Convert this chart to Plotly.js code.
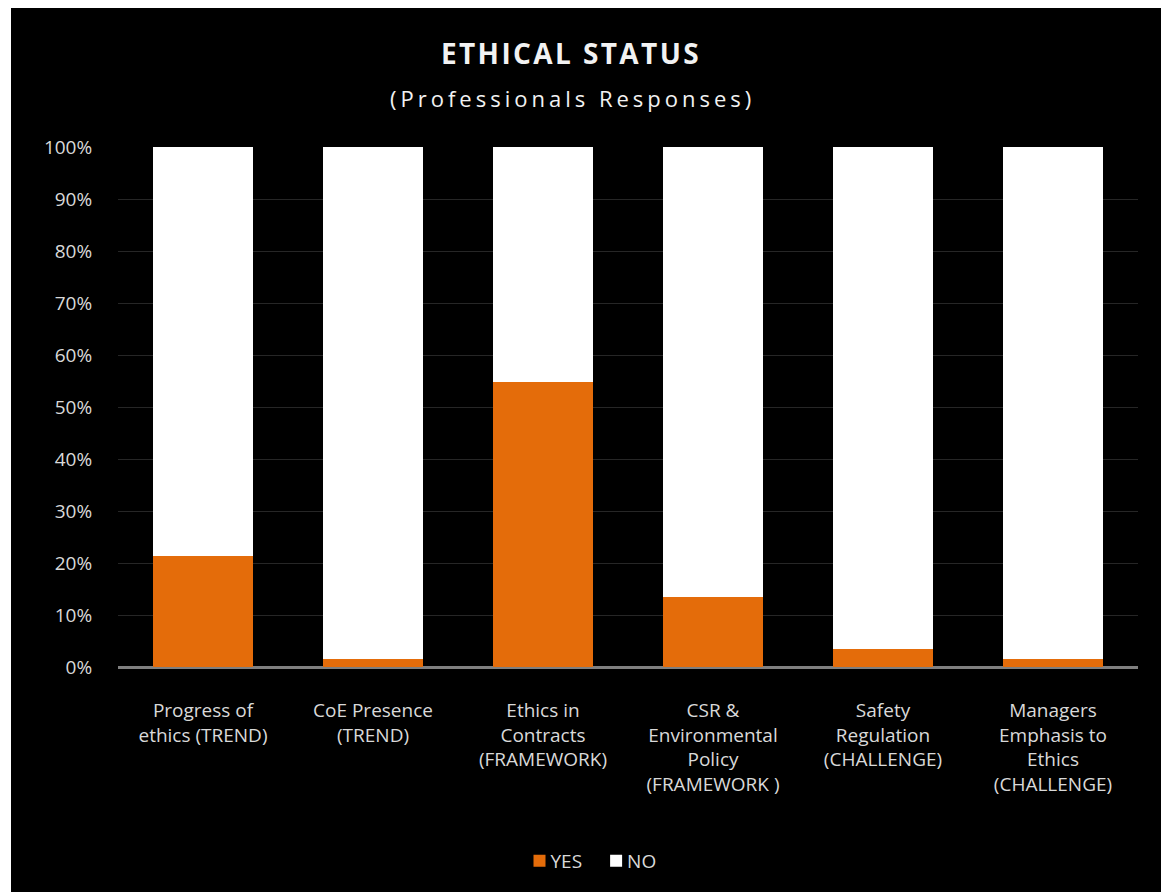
<!DOCTYPE html>
<html>
<head>
<meta charset="utf-8">
<script src="https://cdn.plot.ly/plotly-3.0.1.min.js"></script>
<style>
  html, body { margin: 0; padding: 0; background: #ffffff; }
  #chart { position: absolute; left: 11px; top: 8px; width: 1150px; height: 884px; }
  .gtitle { letter-spacing: 2.4px; }
  .annotation-text { letter-spacing: 4px; }
  .legendtext { transform: translateX(-9px); }
</style>
</head>
<body>
<div id="chart"></div>
<script>
const categories = [
  "Progress of<br>ethics (TREND)",
  "CoE Presence<br>(TREND)",
  "Ethics in<br>Contracts<br>(FRAMEWORK)",
  "CSR &<br>Environmental<br>Policy<br>(FRAMEWORK )",
  "Safety<br>Regulation<br>(CHALLENGE)",
  "Managers<br>Emphasis to<br>Ethics<br>(CHALLENGE)"
];
const yesValues = [21.3, 1.5, 54.8, 13.4, 3.5, 1.5];
const noValues = [78.7, 98.5, 45.2, 86.6, 96.5, 98.5];
const yTickVals = [0, 10, 20, 30, 40, 50, 60, 70, 80, 90, 100];
const yTickText = ["0%", "10%", "20%", "30%", "40%", "50%", "60%", "70%", "80%", "90%", "100%"];

const FONT = "Open Sans, Liberation Sans, sans-serif";
const TXT = "#d9d9d9";

const traces = [
  { type: "bar", name: "YES", x: categories, y: yesValues,
    marker: { color: "#E46C0A" }, hoverinfo: "y+name" },
  { type: "bar", name: "NO", x: categories, y: noValues,
    marker: { color: "#ffffff" }, hoverinfo: "y+name" }
];

const layout = {
  width: 1150, height: 884,
  paper_bgcolor: "#000000", plot_bgcolor: "#000000",
  margin: { l: 107, r: 23, t: 139, b: 225 },
  barmode: "stack",
  bargap: 0.41,
  font: { family: FONT, color: TXT, size: 19 },
  title: {
    text: "<b>ETHICAL STATUS</b>",
    font: { family: FONT, size: 28, color: "#f2f2f2" },
    x: 560 / 1150, xanchor: "center", xref: "container",
    y: 1 - 46 / 884, yanchor: "middle", yref: "container"
  },
  annotations: [{
    text: "(Professionals Responses)",
    xref: "paper", yref: "paper", x: (561 - 107) / 1020, xanchor: "center",
    y: 1 + (139 - 90) / 520, yanchor: "middle", showarrow: false,
    font: { family: FONT, size: 22, color: "#f2f2f2" }
  }],
  xaxis: {
    type: "category",
    tickfont: { family: FONT, size: 19, color: TXT },
    ticks: "outside", ticklen: 26, tickcolor: "rgba(0,0,0,0)",
    showgrid: false, showline: false, zeroline: false,
    fixedrange: true
  },
  yaxis: {
    range: [0, 100],
    tickvals: yTickVals, ticktext: yTickText,
    tickfont: { family: FONT, size: 19, color: TXT },
    ticks: "outside", ticklen: 21, tickcolor: "rgba(0,0,0,0)",
    showgrid: true, gridcolor: "#262626", gridwidth: 1,
    zeroline: true, zerolinecolor: "#7f7f7f", zerolinewidth: 3,
    showline: false, fixedrange: true
  },
  legend: {
    orientation: "h", x: (584 - 107) / 1020, xanchor: "center",
    y: -(853 - 659) / 520, yanchor: "middle",
    font: { family: FONT, size: 19, color: TXT },
    traceorder: "normal", itemwidth: 30, bgcolor: "rgba(0,0,0,0)"
  },
  showlegend: true
};

Plotly.newPlot("chart", traces, layout, { displayModeBar: false, staticPlot: true });
</script>
</body>
</html>
